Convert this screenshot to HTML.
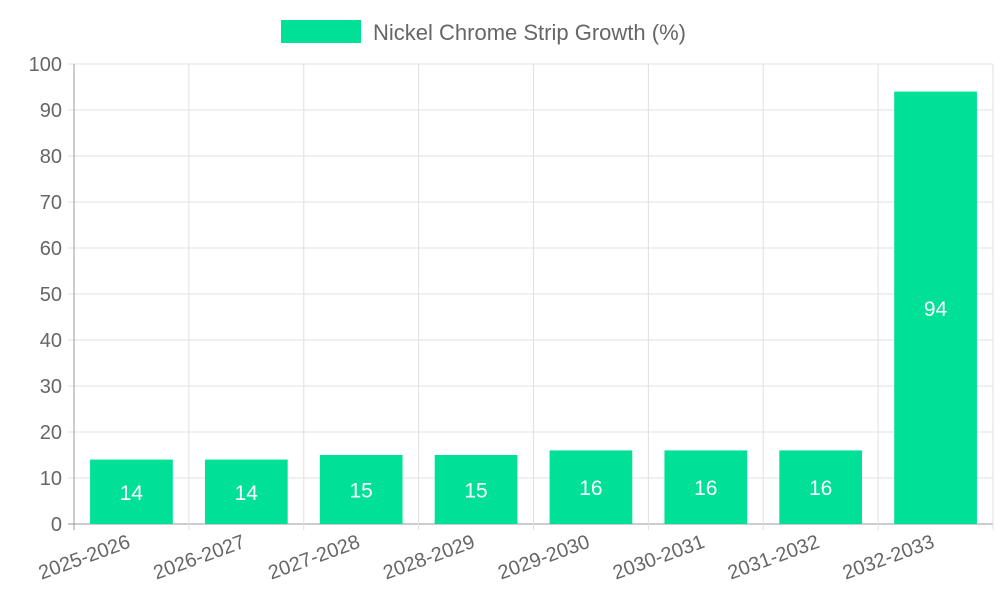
<!DOCTYPE html>
<html><head><meta charset="utf-8"><style>
body{margin:0;background:#fff;}
svg{display:block;font-family:"Liberation Sans",sans-serif;}
</style></head><body>
<svg id="chart" width="1000" height="600">
<g>
<rect x="281" y="20" width="80" height="23" fill="#00e096"/>
<text x="373" y="40" font-size="22" fill="#666">Nickel Chrome Strip Growth (%)</text>
</g>
<g id="grid"></g><g id="bars"></g><g id="axes"></g>
</svg>
<script>
const categories=["2025-2026","2026-2027","2027-2028","2028-2029","2029-2030","2030-2031","2031-2032","2032-2033"];
const values=[14,14,15,15,16,16,16,94];
const yTicks=[0,10,20,30,40,50,60,70,80,90,100];
const L=74,R=993,T=64,B=524,yMax=100;
const NS="http://www.w3.org/2000/svg";
const bw=(R-L)/categories.length;
function x(i){return L+bw*i;}
function y(v){return B-(v/yMax)*(B-T);}
function mk(tag,attrs,parent,text){const e=document.createElementNS(NS,tag);for(const k in attrs)e.setAttribute(k,attrs[k]);if(text!==undefined)e.textContent=text;document.getElementById(parent).appendChild(e);return e;}
yTicks.forEach(t=>{
 const g=mk("line",{x1:L-6,x2:R,y1:y(t),y2:y(t),stroke:t===0?"#999":"#e0e0e0","stroke-width":1},"grid");
 
 
 const lb=mk("text",{x:L-12,y:y(t)+7,"text-anchor":"end","font-size":20,fill:"#666"},"axes",t);
 
 
});
for(let i=0;i<=categories.length;i++){
 const g=mk("line",{x1:x(i),x2:x(i),y1:T,y2:B+6,stroke:i===0?"#999":"#e0e0e0","stroke-width":1},"grid");
 
 
}
categories.forEach((c,i)=>{
 const cx=x(i)+bw/2,w=bw*0.72;
 const r=mk("rect",{x:cx-w/2,y:y(values[i]),width:w,height:B-y(values[i]),fill:"#00e096"},"bars");
 
 
 const v=mk("text",{x:cx,y:(y(values[i])+B)/2+8,"text-anchor":"middle","font-size":21,fill:"#fff"},"bars",values[i]);
 
 
 const lb=mk("text",{x:cx,y:B+23,"text-anchor":"end","font-size":20,fill:"#666",transform:`rotate(-20 ${cx} ${B+23})`},"axes",c);
 
 
});
</script>
</body></html>
